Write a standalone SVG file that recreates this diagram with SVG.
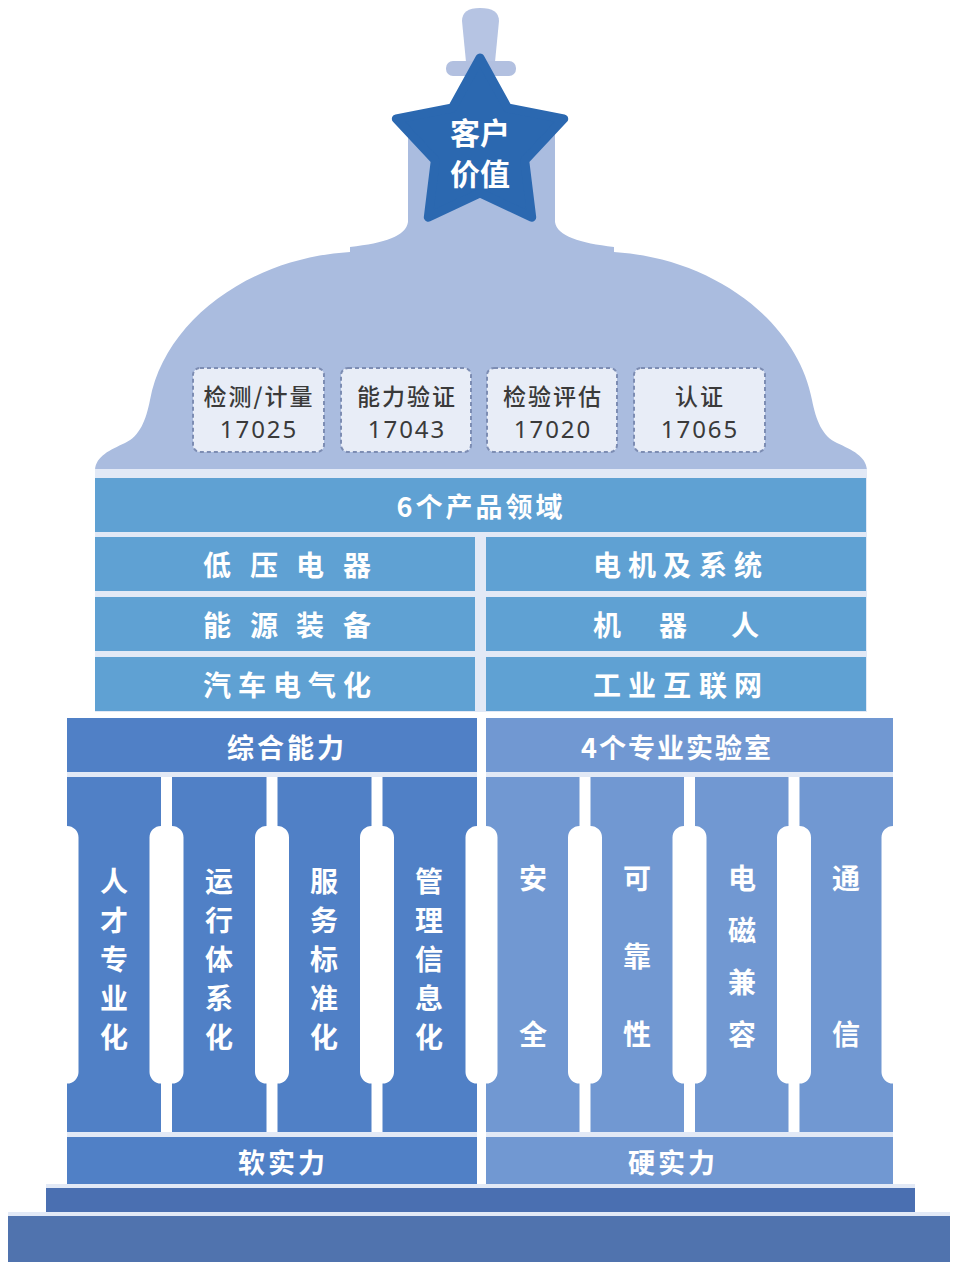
<svg xmlns="http://www.w3.org/2000/svg" width="953" height="1262" viewBox="0 0 953 1262">
<style>
.t{fill:#fff;font-family:"Noto Sans CJK SC","Noto Sans",sans-serif;font-weight:700;text-anchor:middle;dominant-baseline:central}
.h{font-size:27px}
.c{font-size:28px}
.b{fill:#3a3a3a;font-family:"Noto Sans CJK SC",sans-serif;font-size:23px;font-weight:500;text-anchor:middle;dominant-baseline:central;letter-spacing:2px}
.n{fill:#3a3a3a;font-family:"Noto Sans","Noto Sans CJK SC",sans-serif;font-size:24px;text-anchor:middle;dominant-baseline:central;letter-spacing:2px}
.box{fill:#e8edf7;stroke:#7d8db3;stroke-width:2;stroke-dasharray:4 3}
.row{fill:#5fa1d3}
.L{fill:#5080c6}
.R{fill:#7198d2}
.gap{fill:#e2e9f6}
</style>
<rect width="953" height="1262" fill="#fff"/>

<g id="dome">
<path d="M 95 470 C 96 456 110 450 125 443 C 140 436 146 420 150 400 C 165 320 250 258 350 252 L 350 247 C 385 243 406 236 408 222 L 408 120 L 555 120 L 555 222 C 557 236 580 243 614 247 L 614 252 C 712 258 797 320 812 400 C 816 420 822 436 837 443 C 852 450 866 456 867 470 Z" fill="#aabcdf"/>
<path d="M 462 21 Q 462 8 480 8 Q 499 8 499 21 L 495 62 L 466 62 Z" fill="#b6c4e3"/>
<rect x="446" y="61" width="70" height="15" rx="7" fill="#b2c0e0"/>
</g>

<g id="star">
<polygon points="480,58 507.6,108 563.7,118.8 524.7,160.5 531.7,217.2 480,193 428.3,217.2 435.3,160.5 396.3,118.8 452.4,108" fill="#2b68b0" stroke="#2b68b0" stroke-width="9" stroke-linejoin="round"/>
<text class="t" x="480" y="131" style="font-size:30px">客户</text>
<text class="t" x="480" y="172" style="font-size:30px">价值</text>
</g>

<g id="box1">
<rect class="box" x="193" y="368" width="131" height="84" rx="7"/>
<text class="b" x="259" y="395">检测/计量</text>
<text class="n" x="259" y="428">17025</text>
</g>
<g id="box2">
<rect class="box" x="341" y="368" width="130" height="84" rx="7"/>
<text class="b" x="407" y="395">能力验证</text>
<text class="n" x="407" y="428">17043</text>
</g>
<g id="box3">
<rect class="box" x="487" y="368" width="130" height="84" rx="7"/>
<text class="b" x="553" y="395">检验评估</text>
<text class="n" x="553" y="428">17020</text>
</g>
<g id="box4">
<rect class="box" x="634" y="368" width="131" height="84" rx="7"/>
<text class="b" x="700" y="395">认证</text>
<text class="n" x="700" y="428">17065</text>
</g>

<rect class="gap" x="95" y="469" width="772" height="243"/>

<g id="products-title">
<rect class="row" x="95" y="478" width="771" height="54"/>
<text class="t h" x="481" y="505" style="letter-spacing:3px">6个产品领域</text>
</g>
<g id="row-low-voltage">
<rect class="row" x="95" y="537" width="380" height="54"/>
<text class="t c" x="217 264 310 357" y="564">低压电器</text>
</g>
<g id="row-motor">
<rect class="row" x="486" y="537" width="380" height="54"/>
<text class="t c" x="607 642 677 713 748" y="564">电机及系统</text>
</g>
<g id="row-energy">
<rect class="row" x="95" y="597" width="380" height="54"/>
<text class="t c" x="217 264 310 357" y="624">能源装备</text>
</g>
<g id="row-robot">
<rect class="row" x="486" y="597" width="380" height="54"/>
<text class="t c" x="607 673 745" y="624">机器人</text>
</g>
<g id="row-auto">
<rect class="row" x="95" y="657" width="380" height="54"/>
<text class="t c" x="217 252 287 322 357" y="684">汽车电气化</text>
</g>
<g id="row-iiot">
<rect class="row" x="486" y="657" width="380" height="54"/>
<text class="t c" x="607 642 677 713 748" y="684">工业互联网</text>
</g>

<rect class="gap" x="67" y="772" width="410" height="5"/>
<rect class="gap" x="486" y="772" width="407" height="5"/>
<rect class="gap" x="67" y="1132" width="410" height="5"/>
<rect class="gap" x="486" y="1132" width="407" height="5"/>
<rect class="gap" x="46" y="1184" width="869" height="4"/>
<rect class="gap" x="8" y="1212" width="942" height="4"/>

<g id="header-left">
<rect class="L" x="67" y="718" width="410" height="54"/>
<text class="t h" x="287" y="746" style="letter-spacing:3px">综合能力</text>
</g>
<g id="header-right">
<rect class="R" x="486" y="718" width="407" height="54"/>
<text class="t h" x="677" y="746" style="letter-spacing:2px">4个专业实验室</text>
</g>

<g id="col1">
<path class="L" d="M 67 777 H 161 V 826 A 11.5 11.5 0 0 0 149.5 837.5 V 1072 A 11.5 11.5 0 0 0 161 1083.5 V 1132 H 67 V 1083.5 A 11.5 11.5 0 0 0 78.5 1072 V 837.5 A 11.5 11.5 0 0 0 67 826 Z"/>
<text class="t c" x="114 114 114 114 114" y="880 919 958 997 1036">人才专业化</text>
</g>
<g id="col2">
<path class="L" d="M 172 777 H 266.5 V 826 A 11.5 11.5 0 0 0 255 837.5 V 1072 A 11.5 11.5 0 0 0 266.5 1083.5 V 1132 H 172 V 1083.5 A 11.5 11.5 0 0 0 183.5 1072 V 837.5 A 11.5 11.5 0 0 0 172 826 Z"/>
<text class="t c" x="219 219 219 219 219" y="880 919 958 997 1036">运行体系化</text>
</g>
<g id="col3">
<path class="L" d="M 277.5 777 H 371.5 V 826 A 11.5 11.5 0 0 0 360 837.5 V 1072 A 11.5 11.5 0 0 0 371.5 1083.5 V 1132 H 277.5 V 1083.5 A 11.5 11.5 0 0 0 289 1072 V 837.5 A 11.5 11.5 0 0 0 277.5 826 Z"/>
<text class="t c" x="324 324 324 324 324" y="880 919 958 997 1036">服务标准化</text>
</g>
<g id="col4">
<path class="L" d="M 382.5 777 H 477 V 826 A 11.5 11.5 0 0 0 465.5 837.5 V 1072 A 11.5 11.5 0 0 0 477 1083.5 V 1132 H 382.5 V 1083.5 A 11.5 11.5 0 0 0 394 1072 V 837.5 A 11.5 11.5 0 0 0 382.5 826 Z"/>
<text class="t c" x="429 429 429 429 429" y="880 919 958 997 1036">管理信息化</text>
</g>
<g id="col5">
<path class="R" d="M 486 777 H 579.5 V 826 A 11.5 11.5 0 0 0 568 837.5 V 1072 A 11.5 11.5 0 0 0 579.5 1083.5 V 1132 H 486 V 1083.5 A 11.5 11.5 0 0 0 497.5 1072 V 837.5 A 11.5 11.5 0 0 0 486 826 Z"/>
<text class="t c" x="533 533" y="877 1033">安全</text>
</g>
<g id="col6">
<path class="R" d="M 590.5 777 H 684 V 826 A 11.5 11.5 0 0 0 672.5 837.5 V 1072 A 11.5 11.5 0 0 0 684 1083.5 V 1132 H 590.5 V 1083.5 A 11.5 11.5 0 0 0 602 1072 V 837.5 A 11.5 11.5 0 0 0 590.5 826 Z"/>
<text class="t c" x="637 637 637" y="877 955 1033">可靠性</text>
</g>
<g id="col7">
<path class="R" d="M 695 777 H 788.5 V 826 A 11.5 11.5 0 0 0 777 837.5 V 1072 A 11.5 11.5 0 0 0 788.5 1083.5 V 1132 H 695 V 1083.5 A 11.5 11.5 0 0 0 706.5 1072 V 837.5 A 11.5 11.5 0 0 0 695 826 Z"/>
<text class="t c" x="742 742 742 742" y="877 929 981 1033">电磁兼容</text>
</g>
<g id="col8">
<path class="R" d="M 799.5 777 H 893 V 826 A 11.5 11.5 0 0 0 881.5 837.5 V 1072 A 11.5 11.5 0 0 0 893 1083.5 V 1132 H 799.5 V 1083.5 A 11.5 11.5 0 0 0 811 1072 V 837.5 A 11.5 11.5 0 0 0 799.5 826 Z"/>
<text class="t c" x="846 846" y="877 1033">通信</text>
</g>

<g id="soft-power">
<rect class="L" x="67" y="1137" width="410" height="47"/>
<text class="t h" x="283" y="1161" style="letter-spacing:3px">软实力</text>
</g>
<g id="hard-power">
<rect class="R" x="486" y="1137" width="407" height="47"/>
<text class="t h" x="673" y="1161" style="letter-spacing:3px">硬实力</text>
</g>

<g id="base">
<rect x="46" y="1188" width="869" height="24" fill="#4a6fb1"/>
<rect x="8" y="1216" width="942" height="46" fill="#5073ae"/>
</g>
</svg>
